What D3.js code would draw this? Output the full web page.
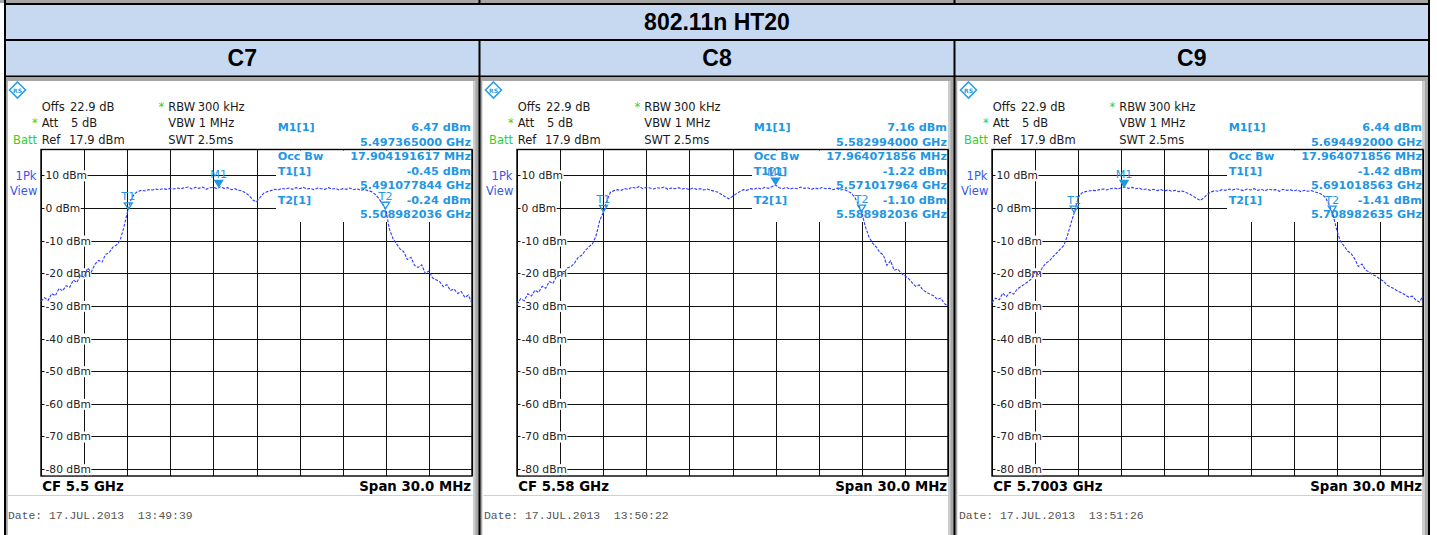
<!DOCTYPE html>
<html>
<head>
<meta charset="utf-8">
<script src="https://cdn.jsdelivr.net/npm/d3@7"></script>
<style>
  html, body { margin: 0; padding: 0; background: #fff; }
  svg { display: block; }
</style>
</head>
<body>
<svg id="chart" width="1437" height="535"></svg>
<script>
// ---- data ----
const title = "802.11n HT20";
const channels = ["C7", "C8", "C9"];
const centerLabels = ["CF 5.5 GHz", "CF 5.58 GHz", "CF 5.7003 GHz"];
const spanLabel = "Span 30.0 MHz";
const dateLabels = ["Date: 17.JUL.2013  13:49:39", "Date: 17.JUL.2013  13:50:22", "Date: 17.JUL.2013  13:51:26"];

const refLevel = 17.9;     // dBm, top of the graticule
const levelRange = 100;    // dB shown
const spanMHz = 30;
const yTicks = [10, 0, -10, -20, -30, -40, -50, -60, -70, -80];
const xDivisions = [-15, -12, -9, -6, -3, 0, 3, 6, 9, 12, 15];

// marker positions: offset from centre (MHz) and level (dBm)
const markerM1 = [{ f: -2.635, v: 6.47 }, { f: 2.994, v: 7.16 }, { f: -5.808, v: 6.44 }];
const markerT1 = [{ f: -8.922, v: -0.45 }, { f: -8.982, v: -1.22 }, { f: -9.281, v: -1.42 }];
const markerT2 = [{ f: 8.982, v: -0.24 }, { f: 8.982, v: -1.10 }, { f: 8.683, v: -1.41 }];

const readoutC7 = [["M1[1]", "6.47 dBm"], ["", "5.497365000 GHz"], ["Occ Bw", "17.904191617 MHz"], ["T1[1]", "-0.45 dBm"], ["", "5.491077844 GHz"], ["T2[1]", "-0.24 dBm"], ["", "5.508982036 GHz"]];
const readoutC8 = [["M1[1]", "7.16 dBm"], ["", "5.582994000 GHz"], ["Occ Bw", "17.964071856 MHz"], ["T1[1]", "-1.22 dBm"], ["", "5.571017964 GHz"], ["T2[1]", "-1.10 dBm"], ["", "5.588982036 GHz"]];
const readoutC9 = [["M1[1]", "6.44 dBm"], ["", "5.694492000 GHz"], ["Occ Bw", "17.964071856 MHz"], ["T1[1]", "-1.42 dBm"], ["", "5.691018563 GHz"], ["T2[1]", "-1.41 dBm"], ["", "5.708982635 GHz"]];

// sweep points, -15 .. +15 MHz in 0.25 MHz steps (121 points)
const sweepMHz = d3.range(0, 121).map(i => -15 + i * 0.25);

const traceC7 = [
  -28.6, -27.5, -28.3, -26.2, -26.9, -24.6, -25.4, -23.8, -24.3, -22.1, -22.8, -20.6, -21.2, -18.4, -19.6, -17.3,
  -16.1, -16.6, -14.2, -13.7, -12.0, -11.4, -10.0, -6.2, -1.6, 2.4, 4.3, 5.1, 5.4, 5.2, 5.6, 5.5,
  5.8, 5.6, 5.9, 5.7, 6.0, 5.8, 6.1, 5.9, 6.2, 6.4, 5.8, 6.3, 6.0, 6.4, 5.7, 6.2,
  6.3, 5.9, 6.47, 6.0, 6.2, 5.6, 5.9, 5.4, 5.2, 4.6, 3.7, 2.4, 1.9, 3.2, 4.5, 5.0,
  5.3, 5.7, 5.5, 6.0, 5.8, 6.1, 5.7, 6.2, 5.9, 6.3, 5.8, 6.0, 5.6, 6.1, 5.9, 5.7,
  6.2, 5.8, 6.0, 5.5, 5.9, 5.7, 6.1, 5.6, 5.9, 5.4, 5.7, 5.3, 5.0, 4.2, 3.0, 1.4,
  -0.6, -6.5, -9.4, -11.0, -12.6, -13.4, -15.8, -15.1, -17.6, -18.2, -17.4, -20.1, -19.3, -21.4, -22.0, -22.6,
  -24.1, -23.5, -25.3, -24.8, -26.2, -25.6, -27.4, -26.7, -29.2
];
const traceC8 = [
  -29.6, -27.8, -28.4, -26.3, -27.0, -25.2, -25.9, -24.0, -24.6, -22.5, -23.1, -21.0, -20.6, -20.1, -18.4, -18.0,
  -16.9, -15.2, -14.5, -13.1, -11.9, -11.0, -8.6, -4.0, -1.4, 2.1, 4.8, 5.3, 5.6, 5.4, 5.9, 5.7,
  6.4, 6.0, 6.6, 5.9, 6.3, 6.1, 5.8, 6.2, 6.0, 6.4, 5.7, 6.1, 5.9, 6.2, 5.8, 6.0,
  5.6, 6.1, 5.7, 5.9, 5.5, 5.8, 5.4, 5.1, 4.8, 4.1, 3.4, 2.8, 3.5, 4.3, 5.0, 5.6,
  5.4, 5.9, 5.7, 6.2, 5.8, 6.3, 6.0, 6.5, 7.0, 6.2, 5.9, 6.3, 5.8, 6.1, 5.9, 6.4,
  6.0, 6.2, 5.7, 6.1, 5.8, 6.3, 5.9, 6.0, 5.6, 6.0, 5.5, 5.7, 5.2, 4.6, 3.3, 1.2,
  -1.3, -5.8, -8.9, -10.8, -11.9, -13.6, -14.4, -17.6, -16.2, -19.1, -18.7, -20.0, -20.8, -21.6, -22.9, -24.0,
  -23.6, -25.1, -25.8, -26.4, -26.9, -28.0, -27.6, -29.3, -30.0
];
const traceC9 = [
  -29.0, -27.6, -28.1, -26.1, -27.2, -25.8, -26.4, -24.9, -24.1, -23.4, -22.6, -21.7, -19.5, -20.6, -18.3, -16.9,
  -16.2, -14.9, -13.8, -12.6, -11.5, -8.5, -4.6, -1.1, 3.2, 4.6, 5.0, 5.2, 5.4, 5.3, 5.6, 5.8,
  5.5, 5.9, 6.1, 5.8, 6.2, 6.4, 6.0, 6.3, 5.9, 6.1, 5.6, 5.8, 5.4, 5.7, 5.3, 5.6,
  5.2, 5.5, 5.1, 5.4, 5.0, 5.2, 4.7, 4.3, 3.6, 2.9, 2.3, 3.1, 4.2, 4.9, 5.3, 5.1,
  5.6, 5.4, 5.8, 5.5, 5.9, 5.6, 5.3, 5.8, 5.5, 5.9, 5.4, 5.7, 5.2, 5.8, 5.5, 5.6,
  5.1, 5.7, 5.4, 5.6, 5.2, 5.5, 5.0, 5.4, 5.1, 5.3, 4.9, 4.6, 4.1, 2.9, 0.6, -2.4,
  -6.8, -10.2, -11.6, -13.2, -14.0, -15.6, -17.9, -17.2, -19.0, -19.6, -20.5, -20.9, -21.8, -22.4, -23.7, -24.2,
  -24.8, -25.5, -26.0, -26.6, -27.3, -27.0, -28.2, -28.8, -27.0
];

const traces = [traceC7, traceC8, traceC9];
const readouts = [readoutC7, readoutC8, readoutC9];

// ---- layout ----
const svg = d3.select("#chart");
const colEdges = [[6, 478.5], [480.5, 953.5], [955.5, 1428]];
const panelShift = [0, 476, 951];
const gray = "#a6a6a6", headBlue = "#c6d9f0";
const markColor = "#1f97e3", traceColor = "#2f3cff", viewColor = "#3a56e6", green = "#2fd12f";
const sans = "'DejaVu Sans', sans-serif";

// table frame
svg.append("rect").attr("x", 0).attr("y", 0).attr("width", 1430).attr("height", 3).attr("fill", gray);
svg.append("rect").attr("x", 4).attr("y", 3).attr("width", 1426).attr("height", 74).attr("fill", "#000");
svg.append("rect").attr("x", 4).attr("y", 77).attr("width", 1426).attr("height", 458).attr("fill", gray);
svg.append("rect").attr("x", 6).attr("y", 5).attr("width", 1422).attr("height", 34).attr("fill", headBlue);
[4, 478.5, 953.5, 1428].forEach(x => {
  svg.append("rect").attr("x", x).attr("y", 0).attr("width", 2).attr("height", 3).attr("fill", "#000");
  svg.append("rect").attr("x", x).attr("y", 77).attr("width", 2).attr("height", 458).attr("fill", "#000");
});
svg.append("text")
  .attr("x", 717).attr("y", 30)
  .attr("text-anchor", "middle")
  .style("font-family", "'Liberation Sans', Arial, sans-serif")
  .style("font-weight", "bold").style("font-size", "23px")
  .text(title);

colEdges.forEach((c, i) => {
  svg.append("rect").attr("x", c[0]).attr("y", 41).attr("width", c[1] - c[0]).attr("height", 34.5).attr("fill", headBlue);
  svg.append("text")
    .attr("x", (c[0] + c[1]) / 2).attr("y", 66)
    .attr("text-anchor", "middle")
    .style("font-family", "'Liberation Sans', Arial, sans-serif")
    .style("font-weight", "bold").style("font-size", "23px")
    .text(channels[i]);
  // screenshot area
  svg.append("rect").attr("x", c[0] + 1.8).attr("y", 81).attr("width", c[1] - c[0] - 7.3).attr("height", 454).attr("fill", "#fff");
  svg.append("rect").attr("x", c[1] - 5.5).attr("y", 81).attr("width", 2.5).attr("height", 454).attr("fill", "#cdcdcd");
});

// ---- one analyzer screenshot per channel ----
const x = d3.scaleLinear().domain([-spanMHz / 2, spanMHz / 2]).range([41, 472]);
const y = d3.scaleLinear().domain([refLevel - levelRange, refLevel]).range([476, 149.5]);

const line = d3.line()
  .x(d => x(d.f))
  .y(d => y(d.v));

channels.forEach((ch, i) => {
  const g = svg.append("g").attr("transform", `translate(${panelShift[i]},0)`);

  // R&S logo
  const logo = g.append("g").attr("transform", "translate(17.5,90)");
  logo.append("path").attr("d", "M0,-8L8,0L0,8L-8,0Z")
    .attr("fill", "#fff").attr("stroke", "#2a9fe6").attr("stroke-width", 1.6);
  logo.append("text").attr("x", 0).attr("y", 2.5).attr("text-anchor", "middle")
    .style("font-family", sans).style("font-size", "6px").style("font-weight", "bold")
    .attr("fill", "#2a9fe6").text("RS");

  // instrument settings
  const st = g.append("g").style("font-family", sans).style("font-size", "11.5px").attr("fill", "#1a1a1a");
  st.append("text").attr("x", 41.7).attr("y", 111.3).text("Offs");
  st.append("text").attr("x", 70).attr("y", 111.3).text("22.9 dB");
  st.append("text").attr("x", 32).attr("y", 127.3).attr("fill", green).text("*");
  st.append("text").attr("x", 41.7).attr("y", 127.3).text("Att");
  st.append("text").attr("x", 71).attr("y", 127.3).text("5 dB");
  st.append("text").attr("x", 13).attr("y", 144).attr("fill", green).text("Batt");
  st.append("text").attr("x", 41.7).attr("y", 144).text("Ref");
  st.append("text").attr("x", 69).attr("y", 144).text("17.9 dBm");
  st.append("text").attr("x", 158.5).attr("y", 111.3).attr("fill", green).text("*");
  st.append("text").attr("x", 168.3).attr("y", 111.3).text("RBW");
  st.append("text").attr("x", 197.7).attr("y", 111.3).text("300 kHz");
  st.append("text").attr("x", 168.3).attr("y", 127.3).text("VBW 1 MHz");
  st.append("text").attr("x", 168.3).attr("y", 144).text("SWT 2.5ms");
  st.append("text").attr("x", 36.5).attr("y", 179.7).attr("text-anchor", "end").attr("fill", viewColor).text("1Pk");
  st.append("text").attr("x", 37.3).attr("y", 194.7).attr("text-anchor", "end").attr("fill", viewColor).text("View");

  // graticule
  const grid = g.append("g").attr("stroke", "#111").attr("stroke-width", 1);
  grid.selectAll("line.h").data(yTicks).join("line").attr("class", "h")
    .attr("x1", x(-15)).attr("x2", x(15))
    .attr("y1", d => Math.round(y(d)) + 0.5).attr("y2", d => Math.round(y(d)) + 0.5);
  grid.selectAll("line.v").data(xDivisions).join("line").attr("class", "v")
    .attr("x1", d => Math.round(x(d)) + 0.5).attr("x2", d => Math.round(x(d)) + 0.5)
    .attr("y1", y(refLevel)).attr("y2", y(refLevel - levelRange));

  // readout box hides part of the grid
  g.append("rect").attr("x", 276).attr("y", 150.5).attr("width", 195.5).attr("height", 71.5).attr("fill", "#fff");
  g.append("rect").attr("x", x(-15)).attr("y", y(refLevel)).attr("width", x(15) - x(-15))
    .attr("height", y(refLevel - levelRange) - y(refLevel))
    .attr("fill", "none").attr("stroke", "#000").attr("stroke-width", 1.4);

  // level labels on white
  yTicks.forEach(t => {
    const lg = g.append("g");
    const bg = lg.append("rect").attr("fill", "#fff");
    const tx = lg.append("text").attr("x", 45.5).attr("y", y(t) + 4)
      .style("font-family", sans).style("font-size", "10.7px").attr("fill", "#222")
      .text(`${t} dBm`);
    const b = tx.node().getBBox();
    bg.attr("x", b.x - 1).attr("y", b.y + 1).attr("width", b.width + 1.5).attr("height", b.height - 2);
  });

  // marker readouts
  const ro = g.append("g").style("font-family", sans).style("font-size", "11.2px")
    .style("font-weight", "bold").attr("fill", markColor);
  readouts[i].forEach((r, k) => {
    const yy = 131.3 + k * 14.5;
    if (r[0]) ro.append("text").attr("x", 277.7).attr("y", yy).text(r[0]);
    ro.append("text").attr("x", 471).attr("y", yy).attr("text-anchor", "end").text(r[1]);
  });

  // trace (screenshot was downscaled, so the 1 px trace reads as broken)
  const pts = sweepMHz.map((f, k) => ({ f: f, v: traces[i][k] }));
  g.append("path").datum(pts)
    .attr("d", line)
    .attr("fill", "none").attr("stroke", traceColor).attr("stroke-width", 1.1)
    .attr("stroke-dasharray", "3 1.4");

  // markers
  const mk = g.append("g").style("font-family", sans).style("font-size", "11.2px").attr("fill", markColor);
  [[markerT1[i], "T1", false], [markerM1[i], "M1", true], [markerT2[i], "T2", false]].forEach(m => {
    const px = x(m[0].f), py = y(m[0].v);
    mk.append("path").attr("d", `M${px - 4},${py - 6.5}L${px + 4},${py - 6.5}L${px},${py}Z`)
      .attr("fill", m[2] ? markColor : "none").attr("stroke", markColor).attr("stroke-width", 1.3);
    mk.append("text").attr("x", px).attr("y", py - 9).attr("text-anchor", "middle").text(m[1]);
  });

  // footer
  const ft = g.append("g").style("font-family", sans).style("font-size", "13.3px").style("font-weight", "bold").attr("fill", "#000");
  ft.append("text").attr("x", 42.3).attr("y", 490.7).text(centerLabels[i]);
  ft.append("text").attr("x", 471).attr("y", 490.7).attr("text-anchor", "end").text(spanLabel);
  g.append("line").attr("x1", 7.5).attr("x2", 472.5).attr("y1", 495.5).attr("y2", 495.5)
    .attr("stroke", "#d0d0d0").attr("stroke-width", 1);
  g.append("text").attr("x", 8).attr("y", 519)
    .style("font-family", "'Liberation Mono', 'DejaVu Sans Mono', monospace").style("font-size", "11.4px")
    .attr("fill", "#555").attr("xml:space", "preserve").text(dateLabels[i]);
});
</script>
</body>
</html>
